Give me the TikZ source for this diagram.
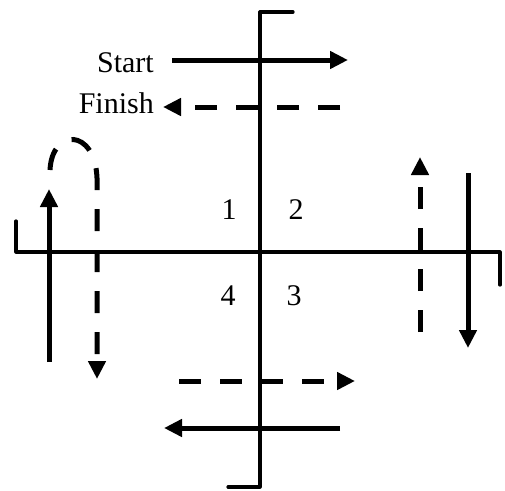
\documentclass[tikz,border=0pt]{standalone}
\usepackage{fontspec}
\setmainfont{Liberation Serif}
\usetikzlibrary{arrows.meta}

\begin{document}
\begin{tikzpicture}[x=1pt, y=-1pt,
    axis/.style={line width=3.2pt, line join=round, line cap=round},
    move/.style={line width=5pt, -{Triangle[length=18pt,width=17pt]}},
    back/.style={move, dash pattern=on 22pt off 19pt},
    lbl/.style={font=\fontsize{30}{33}\selectfont, inner sep=0pt}]
    \useasboundingbox (0,0) rectangle (505,490);
    % axes with hooked ends
    \draw[axis] (293,12) -- (260,12) -- (260,487) -- (228,487);
    \draw[axis] (16,221) -- (16,252) -- (500,252) -- (500,285);
    % quadrant numbers
    \node[lbl, anchor=base] (q1) at (229,219) {1};
    \node[lbl, anchor=base] (q2) at (296,219) {2};
    \node[lbl, anchor=base] (q3) at (294,305) {3};
    \node[lbl, anchor=base] (q4) at (228,305) {4};
    % start and finish
    \node[lbl, anchor=base east] (start) at (154,72) {Start};
    \node[lbl, anchor=base east] (finish) at (154,113) {Finish};
    \draw[move] (172,60) -- (348,60);
    \draw[back] (340,107) -- (163,107);
    % left side, turning back
    \draw[move] (49,362) -- (49,189);
    \draw[back] (50,170) .. controls (52,128) and (95,128) .. (97,178) -- (97,379);
    % right side
    \draw[back] (420,332) -- (420,157);
    \draw[move] (468,173) -- (468,348);
    % bottom
    \draw[back] (179,381) -- (355,381);
    \draw[move] (340,428) -- (164,428);
  \end{tikzpicture}
\end{document}
